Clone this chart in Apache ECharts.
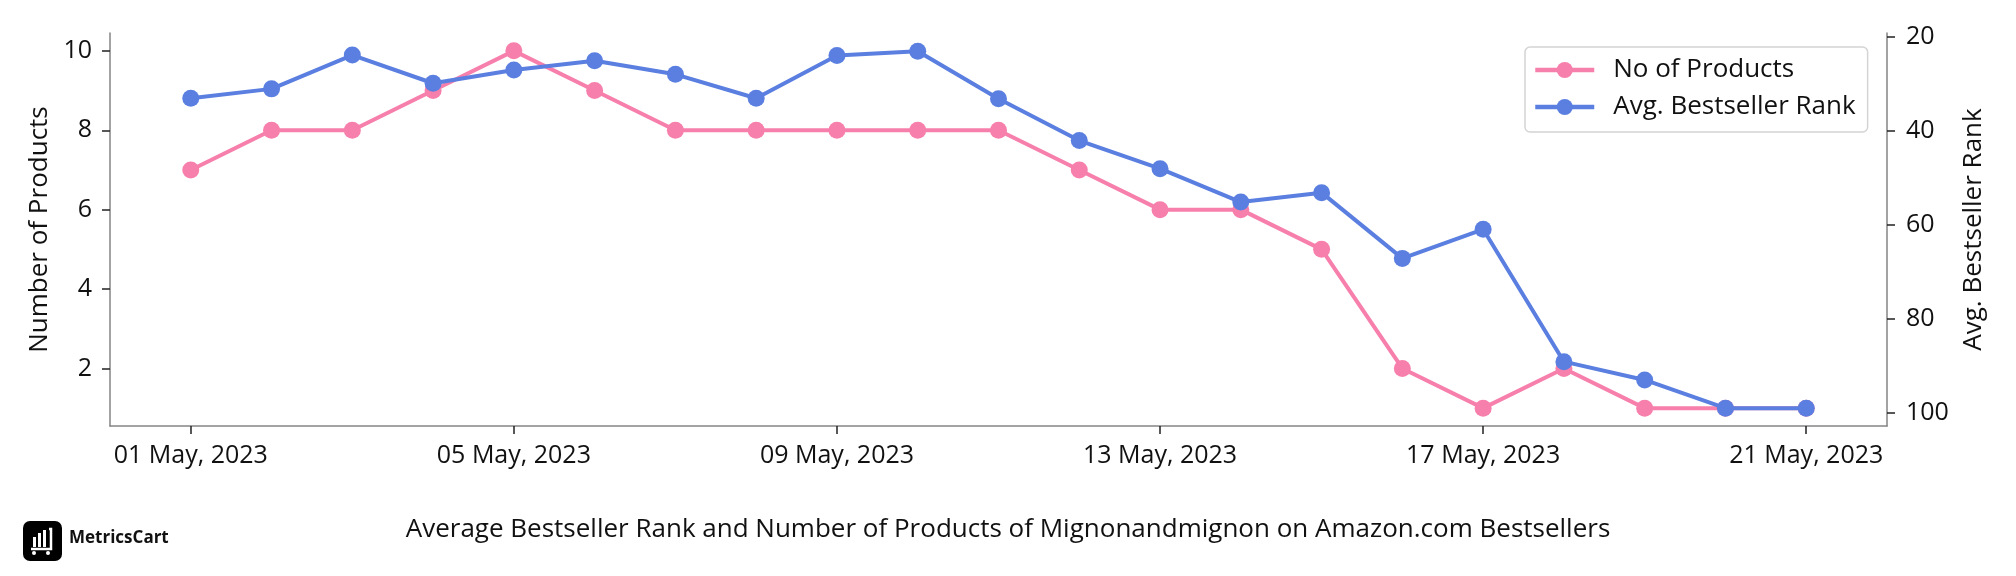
<!DOCTYPE html>
<html lang="en">

<head>
    <meta charset="UTF-8">
    <title>Mignonandmignon bestsellers</title>
    <script src="https://cdn.jsdelivr.net/npm/echarts@6/dist/echarts.min.js"></script>
    <style>
        html, body {
            margin: 0;
            padding: 0;
            background: #fff;
        }
        #box {
            width: 2016px;
            height: 576px;
        }
    </style>
</head>

<body>
    <div id="box"></div>
    <script>
        // dates, one per day
        const dates = ['01 May, 2023', '02 May, 2023', '03 May, 2023', '04 May, 2023', '05 May, 2023', '06 May, 2023', '07 May, 2023',
            '08 May, 2023', '09 May, 2023', '10 May, 2023', '11 May, 2023', '12 May, 2023', '13 May, 2023', '14 May, 2023',
            '15 May, 2023', '16 May, 2023', '17 May, 2023', '18 May, 2023', '19 May, 2023', '20 May, 2023', '21 May, 2023']
        const productCount = [7, 8, 8, 9, 10, 9, 8, 8, 8, 8, 8, 7, 6, 6, 5, 2, 1, 2, 1, 1, 1]
        const avgRank = [33.1, 31.1, 23.9, 29.9, 27.1, 25.1, 28.0, 33.1, 24.0, 23.1, 33.2, 42.1, 48.1, 55.2, 53.2, 67.2, 61.0, 89.2, 93.1, 99.1, 99.1]
        // which days get a tick on the x axis
        const xTickDays = [1, 5, 9, 13, 17, 21]
        const leftTicks = [2, 4, 6, 8, 10]
        const rightTicks = [20, 40, 60, 80, 100]

        const PINK = '#f77fab'
        const BLUE = '#5a7fe0'
        const FONT = 'Open Sans'

        const toPoints = arr => arr.map((v, i) => [i + 1, v])

        var myChart = echarts.init(document.getElementById('box'))

        const axisCommon = {
            axisLine: { show: true, lineStyle: { color: '#858585', width: 1.5 } },
            axisTick: { show: true, length: 8, lineStyle: { color: '#222', width: 1.5 } },
            splitLine: { show: false },
            axisLabel: { color: '#111', fontSize: 25, fontFamily: FONT, margin: 18 }
        }

        var option = {
            animation: false,
            backgroundColor: '#fff',
            grid: { left: 110, right: 129, top: 33, bottom: 150 },
            legend: {
                orient: 'vertical',
                left: 1525,
                top: 47,
                padding: [10, 12, 12, 8],
                itemGap: 11,
                itemWidth: 59,
                itemHeight: 20,
                borderColor: '#d4d4d4',
                borderWidth: 1.5,
                borderRadius: 5,
                lineStyle: { width: 4.5 },
                textStyle: { fontSize: 26, fontFamily: FONT, color: '#111', padding: [0, 0, 0, 14] },
                data: ['No of Products', 'Avg. Bestseller Rank']
            },
            xAxis: {
                type: 'value',
                min: 0,
                max: 22,
                ...axisCommon,
                axisTick: { ...axisCommon.axisTick, customValues: xTickDays },
                axisLabel: {
                    ...axisCommon.axisLabel,
                    margin: 17,
                    customValues: xTickDays,
                    formatter: v => dates[v - 1]
                }
            },
            yAxis: [{
                type: 'value',
                position: 'left',
                min: 0.55,
                max: 10.45,
                name: 'Number of Products',
                nameLocation: 'middle',
                nameGap: 56,
                nameTextStyle: { fontSize: 26, fontFamily: FONT, color: '#111' },
                ...axisCommon,
                axisTick: { ...axisCommon.axisTick, customValues: leftTicks },
                axisLabel: { ...axisCommon.axisLabel, customValues: leftTicks }
            }, {
                type: 'value',
                position: 'right',
                inverse: true,
                min: 19.2,
                max: 102.9,
                name: 'Avg. Bestseller Rank',
                nameLocation: 'middle',
                nameGap: 74,
                nameRotate: 90,
                nameTextStyle: { fontSize: 26, fontFamily: FONT, color: '#111' },
                ...axisCommon,
                axisTick: { ...axisCommon.axisTick, customValues: rightTicks },
                axisLabel: { ...axisCommon.axisLabel, margin: 19, customValues: rightTicks }
            }],
            series: [{
                name: 'No of Products',
                type: 'line',
                yAxisIndex: 0,
                data: toPoints(productCount),
                symbol: 'circle',
                symbolSize: 17,
                itemStyle: { color: PINK },
                lineStyle: { color: PINK, width: 4 },
                z: 2
            }, {
                name: 'Avg. Bestseller Rank',
                type: 'line',
                yAxisIndex: 1,
                data: toPoints(avgRank),
                symbol: 'circle',
                symbolSize: 17,
                itemStyle: { color: BLUE },
                lineStyle: { color: BLUE, width: 4 },
                z: 3
            }],
            graphic: [
                // title under the chart
                {
                    type: 'text',
                    left: 'center',
                    top: 517,
                    style: {
                        text: 'Average Bestseller Rank and Number of Products of Mignonandmignon on Amazon.com Bestsellers',
                        font: '26px "Open Sans"',
                        fill: '#111'
                    }
                },
                // MetricsCart logo
                {
                    type: 'group',
                    left: 23,
                    top: 521,
                    children: [
                        { type: 'rect', shape: { x: 0, y: 0, width: 39, height: 40, r: 7 }, style: { fill: '#000' } },
                        { type: 'rect', shape: { x: 10, y: 16, width: 3, height: 10 }, style: { fill: '#fff' } },
                        { type: 'rect', shape: { x: 15, y: 12, width: 3, height: 14 }, style: { fill: '#fff' } },
                        { type: 'rect', shape: { x: 20, y: 9, width: 3, height: 17 }, style: { fill: '#fff' } },
                        { type: 'polyline', shape: { points: [[26, 8], [28, 8], [28, 28], [8, 28]] }, style: { stroke: '#fff', lineWidth: 2.5, fill: null } },
                        { type: 'circle', shape: { cx: 11, cy: 32, r: 2 }, style: { fill: '#fff' } },
                        { type: 'circle', shape: { cx: 25, cy: 32, r: 2 }, style: { fill: '#fff' } }
                    ]
                },
                {
                    type: 'text',
                    left: 69,
                    top: 530,
                    style: { text: 'MetricsCart', font: 'bold 17px "Open Sans"', fill: '#111' }
                }
            ]
        }

        myChart.setOption(option)
    </script>
</body>

</html>
